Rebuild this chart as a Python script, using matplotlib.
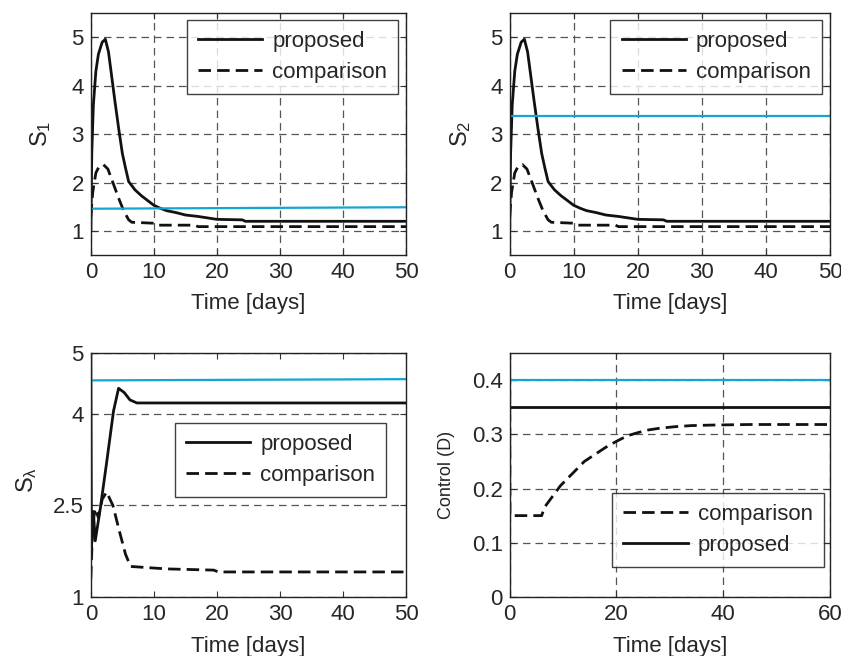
import matplotlib
matplotlib.use("Agg")
import matplotlib.pyplot as plt

# fonts, close to the MATLAB Helvetica look
plt.rcParams['font.family'] = ['Liberation Sans', 'DejaVu Sans']
plt.rcParams['mathtext.fontset'] = 'custom'
plt.rcParams['mathtext.rm'] = 'Liberation Sans'
plt.rcParams['mathtext.it'] = 'Liberation Sans'

# ---- data ----
# S1 / S2 panels
t_s = [0, 0.15, 0.4, 0.8, 1.2, 1.8, 2.3, 2.8, 3.3, 3.8, 4.4, 5.0, 5.5, 6.0,
       7.0, 8.0, 10, 11, 12, 13.5, 15, 17, 18.5, 20, 24, 24.5, 50]
s_proposed = [1.0, 2.6, 3.6, 4.3, 4.65, 4.9, 4.96, 4.7, 4.2, 3.7, 3.13, 2.6,
              2.3, 2.02, 1.85, 1.73, 1.53, 1.47, 1.42, 1.38, 1.33, 1.30, 1.27,
              1.24, 1.23, 1.20, 1.20]
t_sc = [0, 0.3, 0.8, 1.3, 2.0, 2.7, 3.5, 4.4, 5.2, 6.0, 6.5, 10, 10.5, 16.5,
        17, 50]
s_comparison = [1.3, 1.8, 2.2, 2.33, 2.37, 2.28, 2.0, 1.68, 1.42, 1.23, 1.18,
                1.16, 1.12, 1.12, 1.09, 1.09]
t_ref = [0, 50]
s1_ref = [1.46, 1.49]
s2_ref = [3.37, 3.37]

# S_lambda panel
t_lp = [0, 0.1, 0.4, 0.7, 1.5, 2.5, 3.6, 4.4, 5.3, 6.2, 7.3, 50]
sl_proposed = [5.0, 1.8, 2.4, 1.92, 2.45, 3.2, 4.05, 4.42, 4.35, 4.23, 4.18,
               4.18]
t_lc = [0, 0.3, 0.7, 1.2, 1.8, 2.5, 3.5, 4.6, 5.5, 6.3, 12, 19.5, 20.2, 50]
sl_comparison = [1.3, 2.2, 2.45, 2.3, 2.6, 2.72, 2.5, 2.05, 1.7, 1.5, 1.46,
                 1.44, 1.41, 1.41]
sl_ref = [4.55, 4.57]

# control panel
t_c = [0, 0.05, 6, 6.5, 8, 9.5, 11, 12.5, 14, 16, 18, 20, 22, 24, 26, 28, 31,
       34, 38, 45, 60]
d_comparison = [0.45, 0.15, 0.15, 0.165, 0.185, 0.205, 0.22, 0.235, 0.25,
                0.263, 0.276, 0.287, 0.297, 0.303, 0.308, 0.311, 0.314, 0.316,
                0.317, 0.318, 0.318]
t_cref = [0, 60]
d_proposed = [0.35, 0.35]
d_ref = [0.4, 0.4]

cyan = '#14a5d2'
txt = '#262626'
fs = 16
dash = (0, (4.5, 2.2))

fig = plt.figure(figsize=(8.41, 6.56), dpi=100)
ax1 = fig.add_axes([0.108, 0.611, 0.375, 0.369])
ax2 = fig.add_axes([0.606, 0.611, 0.381, 0.369])
ax3 = fig.add_axes([0.108, 0.090, 0.375, 0.372])
ax4 = fig.add_axes([0.606, 0.090, 0.381, 0.372])


def style(ax, xgrid=True):
    ax.tick_params(direction='in', top=True, right=True, labelsize=fs,
                   labelcolor=txt, length=4, width=0.8, pad=5, color='#333333')
    for sp in ax.spines.values():
        sp.set_color('#222222')
        sp.set_linewidth(1.0)
    ax.grid(True, axis='both' if xgrid else 'y', color='#555555',
            linestyle=(0, (6, 4)), linewidth=0.9)
    ax.set_axisbelow(True)


def legend(ax, handles_order, anchor, loc):
    leg = ax.legend(handles=handles_order, loc=loc, bbox_to_anchor=anchor,
                    borderaxespad=0, fontsize=fs, frameon=True, fancybox=False,
                    edgecolor='#111111', handlelength=2.9, handletextpad=0.45,
                    borderpad=0.5, labelspacing=0.45)
    leg.get_frame().set_linewidth(1.0)
    for t in leg.get_texts():
        t.set_color(txt)


for ax, ref, lab, xlab_x in [(ax1, s1_ref, r'$\mathregular{S_1}$', -0.12),
                             (ax2, s2_ref, r'$\mathregular{S_2}$', -0.115)]:
    style(ax)
    p, = ax.plot(t_s, s_proposed, color='#111111', lw=2.0, label='proposed')
    c, = ax.plot(t_sc, s_comparison, color='#111111', lw=2.0,
                 linestyle=dash, label='comparison')
    ax.plot(t_ref, ref, color=cyan, lw=1.6)
    ax.set_xlim(0, 50)
    ax.set_ylim(0.5, 5.5)
    ax.set_yticks([1, 2, 3, 4, 5])
    ax.set_xticks([0, 10, 20, 30, 40, 50])
    ax.set_ylabel(lab, fontsize=17, color=txt)
    ax.yaxis.set_label_coords(xlab_x, 0.5)
    ax.set_xlabel('Time [days]', fontsize=fs, color=txt)
    ax.xaxis.set_label_coords(0.5, -0.155)
    legend(ax, [p, c], (0.975, 0.971), 'upper right')

# S_lambda
style(ax3, xgrid=False)
p, = ax3.plot(t_lp, sl_proposed, color='#111111', lw=2.0, label='proposed')
c, = ax3.plot(t_lc, sl_comparison, color='#111111', lw=2.0,
              linestyle=dash, label='comparison')
ax3.plot(t_ref, sl_ref, color=cyan, lw=1.6)
ax3.set_xlim(0, 50)
ax3.set_ylim(1, 5)
ax3.set_yticks([1, 2.5, 4, 5])
ax3.set_yticklabels(['1', '2.5', '4', '5'])
ax3.set_xticks([0, 10, 20, 30, 40, 50])
ax3.set_ylabel(r'$\mathregular{S_\lambda}$', fontsize=17, color=txt)
ax3.yaxis.set_label_coords(-0.165, 0.48)
ax3.set_xlabel('Time [days]', fontsize=fs, color=txt)
ax3.xaxis.set_label_coords(0.5, -0.16)
legend(ax3, [p, c], (0.937, 0.714), 'upper right')

# control
style(ax4)
c, = ax4.plot(t_c, d_comparison, color='#111111', lw=2.0,
              linestyle=dash, label='comparison')
p, = ax4.plot(t_cref, d_proposed, color='#111111', lw=2.0, label='proposed')
ax4.plot(t_cref, d_ref, color=cyan, lw=1.6)
ax4.set_xlim(0, 60)
ax4.set_ylim(0, 0.45)
ax4.set_yticks([0, 0.1, 0.2, 0.3, 0.4])
ax4.set_yticklabels(['0', '0.1', '0.2', '0.3', '0.4'])
ax4.set_xticks([0, 20, 40, 60])
ax4.set_ylabel('Control (D)', fontsize=13, color=txt)
ax4.yaxis.set_label_coords(-0.17, 0.5)
ax4.set_xlabel('Time [days]', fontsize=fs, color=txt)
ax4.xaxis.set_label_coords(0.5, -0.16)
legend(ax4, [c, p], (0.98, 0.122), 'lower right')

fig.savefig('out.png', dpi=100)
